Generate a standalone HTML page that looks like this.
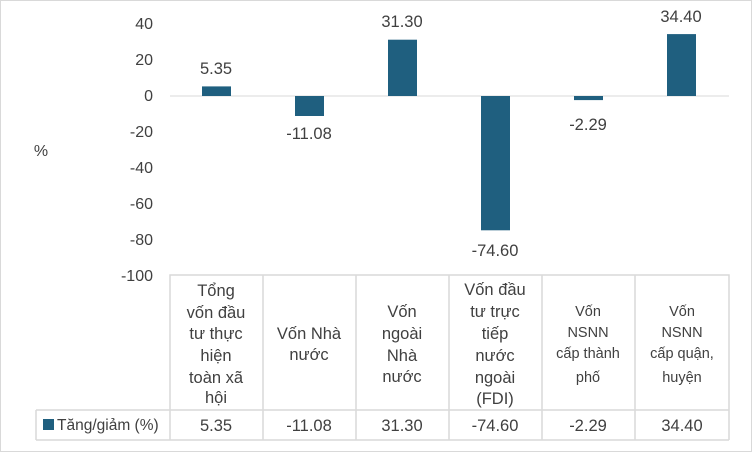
<!DOCTYPE html>
<html><head><meta charset="utf-8"><style>
html,body{margin:0;padding:0;background:#fff}
svg{display:block;font-family:"Liberation Sans",Arial,sans-serif}
</style></head><body>
<svg width="752" height="452" viewBox="0 0 752 452">
<rect x="0.5" y="0.5" width="751" height="451" fill="#fff" stroke="#d9d9d9"/>
<g font-size="16" fill="#404040" text-anchor="end">
<text x="153" y="29">40</text><text x="153" y="65">20</text><text x="153" y="101">0</text>
<text x="153" y="137">-20</text><text x="153" y="173">-40</text><text x="153" y="209">-60</text>
<text x="153" y="245">-80</text><text x="153" y="281">-100</text>
</g>
<text x="41" y="156" font-size="16" fill="#404040" text-anchor="middle">%</text>
<line x1="170" y1="96" x2="729" y2="96" stroke="#d9d9d9"/>
<g fill="#1f5f7f">
<rect x="202" y="86.4" width="29" height="9.6"/>
<rect x="295" y="96" width="29" height="20"/>
<rect x="388" y="39.7" width="29" height="56.3"/>
<rect x="481" y="96" width="29" height="134.3"/>
<rect x="574" y="96" width="29" height="4.1"/>
<rect x="667" y="34.1" width="29" height="61.9"/>
</g>
<g font-size="16.5" fill="#404040" text-anchor="middle">
<text x="216" y="74">5.35</text><text x="309" y="139">-11.08</text>
<text x="402" y="27">31.30</text><text x="495" y="256">-74.60</text>
<text x="588" y="130">-2.29</text><text x="681" y="22">34.40</text>
</g>
<g stroke="#d9d9d9" stroke-width="1.5" fill="none">
<polyline points="170,440 170,275 729,275 729,440"/>
<line x1="36" y1="410" x2="729" y2="410"/>
<line x1="36" y1="440" x2="729" y2="440"/>
<line x1="36" y1="410" x2="36" y2="440"/>
<line x1="263" y1="275" x2="263" y2="440"/><line x1="356" y1="275" x2="356" y2="440"/>
<line x1="449" y1="275" x2="449" y2="440"/><line x1="542" y1="275" x2="542" y2="440"/>
<line x1="635" y1="275" x2="635" y2="440"/>
</g>
<g font-size="16.5" fill="#404040" text-anchor="middle">
<text x="216" y="296">Tổng</text><text x="216" y="318">vốn đầu</text><text x="216" y="339">tư thực</text>
<text x="216" y="361">hiện</text><text x="216" y="383">toàn xã</text><text x="216" y="403">hội</text>
<text x="309" y="339">Vốn Nhà</text><text x="309" y="360">nước</text>
<text x="402" y="317">Vốn</text><text x="402" y="339">ngoài</text><text x="402" y="361">Nhà</text><text x="402" y="382">nước</text>
<text x="495" y="295">Vốn đầu</text><text x="495" y="317">tư trực</text><text x="495" y="339">tiếp</text>
<text x="495" y="361">nước</text><text x="495" y="383">ngoài</text><text x="495" y="404">(FDI)</text>
</g>
<g font-size="14.5" fill="#404040" text-anchor="middle">
<text x="588" y="316">Vốn</text><text x="588" y="337">NSNN</text><text x="588" y="358">cấp thành</text><text x="588" y="382">phố</text>
<text x="682" y="316">Vốn</text><text x="682" y="337">NSNN</text><text x="682" y="358">cấp quận,</text><text x="682" y="382">huyện</text>
</g>
<rect x="43" y="419" width="11" height="11" fill="#1f5f7f"/>
<text x="57" y="430" font-size="15.5" fill="#404040">Tăng/giảm (%)</text>
<g font-size="16.5" fill="#404040" text-anchor="middle">
<text x="216" y="431">5.35</text><text x="309" y="431">-11.08</text><text x="402" y="431">31.30</text>
<text x="495" y="431">-74.60</text><text x="588" y="431">-2.29</text><text x="682" y="431">34.40</text>
</g>
</svg>
</body></html>
